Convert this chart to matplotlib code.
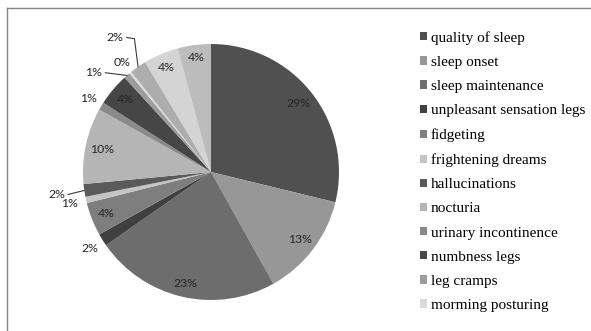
import numpy as np
import matplotlib
matplotlib.use("Agg")
import matplotlib.pyplot as plt
from matplotlib.patches import Patch
from matplotlib.lines import Line2D

# --- data (clockwise from 12 o'clock) ---
legend_names = [
    "quality of sleep", "sleep onset", "sleep maintenance",
    "unpleasant sensation legs", "fidgeting", "frightening dreams",
    "hallucinations", "nocturia", "urinary incontinence",
    "numbness legs", "leg cramps", "morming posturing",
]
shares = [28.8, 13.1, 23.4, 1.6, 4.2, 0.8, 1.6, 9.6, 1.0, 4.1, 0.8, 0.3, 2.1, 4.4, 4.2]

# --- styles ---
colors = ["#505050", "#979797", "#6d6d6d", "#404040", "#7e7e7e", "#c4c4c4",
          "#5a5a5a", "#b5b5b5", "#8a8a8a", "#464646", "#9c9c9c", "#dadada",
          "#adadad", "#d4d4d4", "#bcbcbc"]
# label radius (in pie radii) and angular nudge (deg, ccw) per slice
label_r = [0.87, 0.87, 0.89, 1.12, 0.88, 1.13, 1.22, 0.87, 1.12, 0.875, 1.20, 1.10, 1.29, 0.89, 0.90]
label_da = [0, 0, 0, 0, 0, 0, 0, 0, 0, 0, 8.7, 0, 0.7, 0, 0]
leader = [False] * 6 + [True] + [False] * 3 + [True, False, True, False, False]

R_PX = 128
fig = plt.figure(figsize=(5.91, 3.31), dpi=100, facecolor="white")
W, H = 591, 331

# outer chart frame (cut at right/bottom like the source)
fig.add_artist(Line2D([7 / W, 7 / W], [0, 1 - 8 / H], transform=fig.transFigure,
                      color="#868686", lw=1.0))
fig.add_artist(Line2D([7 / W, 1], [1 - 8 / H, 1 - 8 / H], transform=fig.transFigure,
                      color="#868686", lw=1.0))

half = 150
ax = fig.add_axes([(211 - half) / W, (H - 172 - half) / H, 2 * half / W, 2 * half / H])
wedges, _ = ax.pie(shares, colors=colors, startangle=90, counterclock=False,
                   radius=1.0, wedgeprops=dict(linewidth=0))
lim = half / R_PX
ax.set_xlim(-lim, lim)
ax.set_ylim(-lim, lim)
ax.set_axis_off()

total = sum(shares)
for w, v, r, da, ld in zip(wedges, shares, label_r, label_da, leader):
    mid = np.deg2rad((w.theta1 + w.theta2) / 2)
    ang = mid + np.deg2rad(da)
    tx, ty = r * np.cos(ang), r * np.sin(ang)
    ax.text(tx, ty, f"{v / total * 100:.0f}%", ha="center", va="center",
            fontsize=8.8, family="Lato", color="#262626")
    if ld:
        ex, ey = np.cos(mid), np.sin(mid)
        x0 = tx + 0.09
        if abs(ey - ty) < 0.1:
            ax.plot([x0, ex], [ty, ey], color="#3a3a3a", lw=0.8)
        else:
            ax.plot([x0, x0 + 0.06, ex], [ty, ty - 0.01, ey], color="#3a3a3a", lw=0.8)

handles = [Patch(facecolor=c, edgecolor="none") for c in colors[:len(legend_names)]]
leg = fig.legend(handles, legend_names, loc="upper left",
                 bbox_to_anchor=(420 / W, 1 - 31 / H), frameon=False,
                 prop={"family": "Liberation Serif", "size": 11},
                 handlelength=0.46, handleheight=0.46, handletextpad=0.25,
                 labelspacing=0.73, borderpad=0, borderaxespad=0)
for t in leg.get_texts():
    t.set_color("#000000")

fig.savefig("out.png", dpi=100, facecolor="white")
